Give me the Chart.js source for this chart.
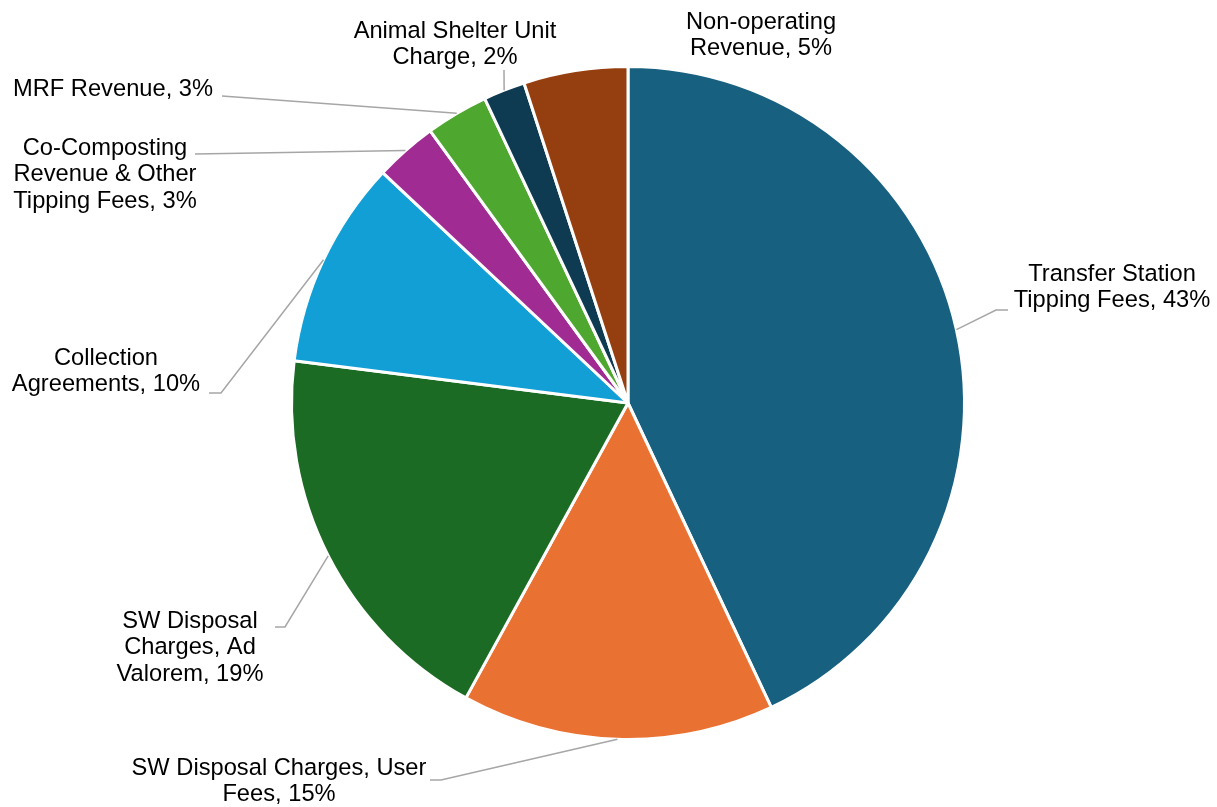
<!DOCTYPE html>
<html>
<head>
<meta charset="utf-8">
<script src="https://cdn.jsdelivr.net/npm/chart.js@4"></script>
<style>
  html, body { margin: 0; padding: 0; background: #fff; }
  #wrap { width: 1217px; height: 807px; }
</style>
</head>
<body>
<div id="wrap"><canvas id="myChart"></canvas></div>
<script>
const categories = [
  "Transfer Station Tipping Fees",
  "SW Disposal Charges, User Fees",
  "SW Disposal Charges, Ad Valorem",
  "Collection Agreements",
  "Co-Composting Revenue & Other Tipping Fees",
  "MRF Revenue",
  "Animal Shelter Unit Charge",
  "Non-operating Revenue",
];
const shares = [43, 15, 19, 10, 3, 3, 2, 5];

const colors = [
  "#176080", // dark teal
  "#e97132", // orange
  "#1c6b24", // dark green
  "#119fd6", // light blue
  "#a02b93", // purple
  "#4ea72e", // green
  "#0f3b52", // navy
  "#953f10", // brown
];

// label placement: center x, first line y, wrap width, leader points (label end, elbow)
const labelLayout = [
  { x: 1112, y: 274, wrap: 210, leader: [[1008, 310], [996, 310]] },
  { x: 279, y: 768, wrap: 310, leader: [[430, 780], [441, 780]] },
  { x: 190, y: 621, wrap: 155, leader: [[275, 627], [285, 627]] },
  { x: 106, y: 358, wrap: 200, leader: [[209, 393], [221, 393]] },
  { x: 105, y: 148, wrap: 200, leader: [[195, 154]] },
  { x: 113, y: 89, wrap: 400, leader: [[222, 96]] },
  { x: 455, y: 31, wrap: 215, leader: [[504, 70]] },
  { x: 761, y: 22, wrap: 160, leader: null },
];

const FONT = '23.7px "Liberation Sans", Arial, sans-serif';
const LINE_H = 26.8;

function wrapText(ctx, text, maxW) {
  const words = text.split(" ");
  const lines = [];
  let cur = "";
  words.forEach((w) => {
    const test = cur ? cur + " " + w : w;
    if (ctx.measureText(test).width > maxW && cur) {
      lines.push(cur);
      cur = w;
    } else {
      cur = test;
    }
  });
  if (cur) lines.push(cur);
  return lines;
}

const outsideLabels = {
  id: "outsideLabels",
  afterDatasetsDraw(chart) {
    const ctx = chart.ctx;
    const arcs = chart.getDatasetMeta(0).data;
    ctx.save();
    arcs.forEach((arc, i) => {
      const lay = labelLayout[i];
      const mid = (arc.startAngle + arc.endAngle) / 2;
      const rimX = arc.x + Math.cos(mid) * arc.outerRadius;
      const rimY = arc.y + Math.sin(mid) * arc.outerRadius;
      if (lay.leader) {
        ctx.strokeStyle = "#a6a6a6";
        ctx.lineWidth = 1.5;
        ctx.beginPath();
        ctx.moveTo(lay.leader[0][0], lay.leader[0][1]);
        for (let k = 1; k < lay.leader.length; k++) {
          ctx.lineTo(lay.leader[k][0], lay.leader[k][1]);
        }
        ctx.lineTo(rimX, rimY);
        ctx.stroke();
      }
      ctx.font = FONT;
      ctx.fillStyle = "#000000";
      ctx.textAlign = "center";
      ctx.textBaseline = "middle";
      const text = categories[i] + ", " + shares[i] + "%";
      const lines = wrapText(ctx, text, lay.wrap);
      lines.forEach((ln, j) => {
        ctx.fillText(ln, lay.x, lay.y + j * LINE_H);
      });
    });
    ctx.restore();
  },
};

const ctx = document.getElementById("myChart");

new Chart(ctx, {
  type: "pie",
  data: {
    labels: categories,
    datasets: [
      {
        data: shares,
        backgroundColor: colors,
        borderColor: "#ffffff",
        borderWidth: 3,
      },
    ],
  },
  options: {
    responsive: true,
    maintainAspectRatio: false,
    animation: false,
    layout: {
      padding: { top: 65, bottom: 66, left: 290, right: 251 },
    },
    plugins: {
      legend: { display: false },
      tooltip: { enabled: false },
    },
  },
  plugins: [outsideLabels],
});
</script>
</body>
</html>
